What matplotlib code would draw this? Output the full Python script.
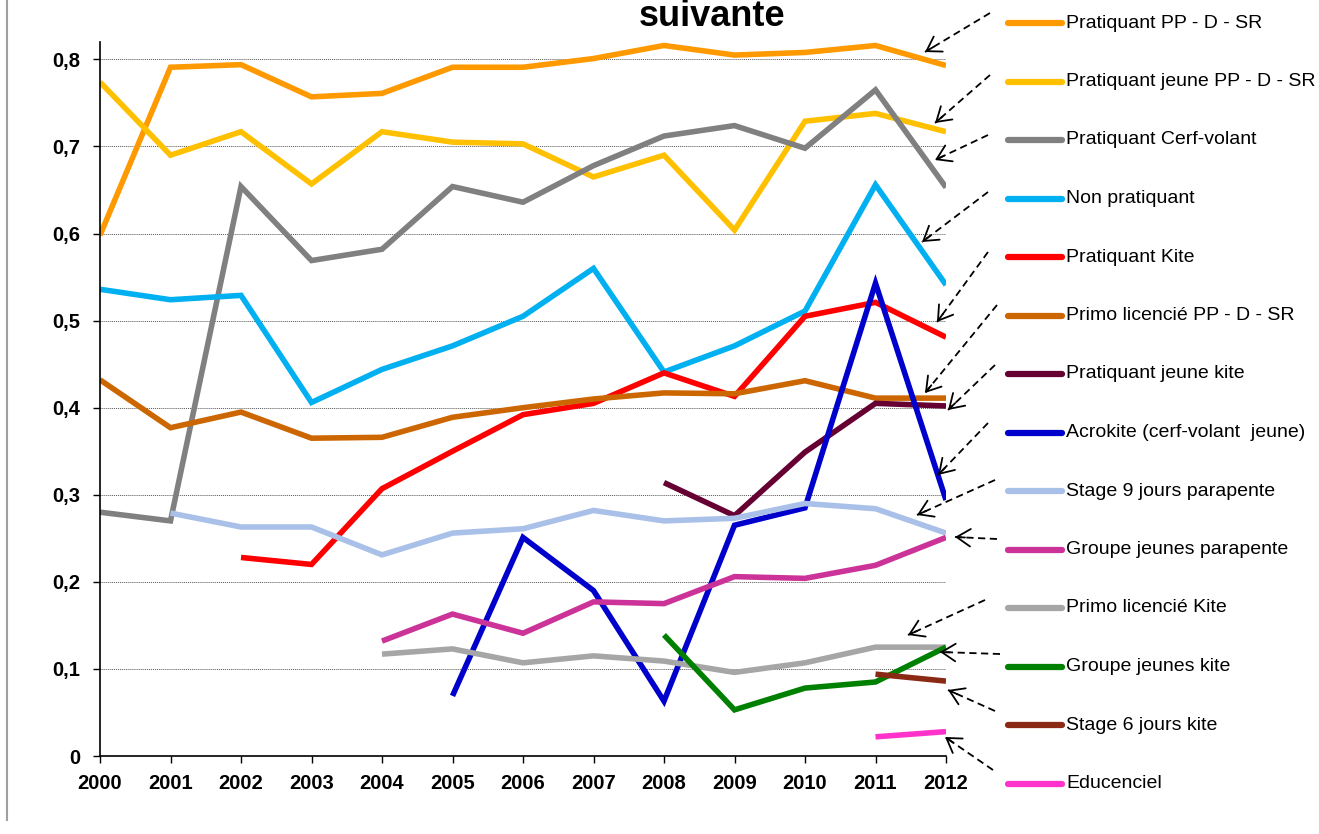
import numpy as np
import matplotlib
matplotlib.use('Agg')
from matplotlib import pyplot as plt
from matplotlib.lines import Line2D

plt.rcParams['font.family'] = ['Liberation Sans', 'DejaVu Sans']

years = list(range(2000, 2013))
N = None

pp_d_sr = [0.598, 0.791, 0.794, 0.757, 0.761, 0.791, 0.791, 0.801, 0.816, 0.805, 0.808, 0.816, 0.793]
jeune_pp = [0.774, 0.690, 0.717, 0.657, 0.717, 0.705, 0.703, 0.665, 0.690, 0.604, 0.729, 0.738, 0.717]
cerf_volant = [0.280, 0.270, 0.654, 0.569, 0.582, 0.654, 0.636, 0.678, 0.712, 0.724, 0.698, 0.765, 0.653]
non_prat = [0.536, 0.524, 0.529, 0.406, 0.444, 0.471, 0.505, 0.560, 0.441, 0.471, 0.511, 0.656, 0.541]
kite = [N, N, 0.228, 0.220, 0.307, 0.350, 0.392, 0.405, 0.440, 0.413, 0.505, 0.521, 0.481]
primo_pp = [0.432, 0.377, 0.395, 0.365, 0.366, 0.389, 0.400, 0.410, 0.417, 0.416, 0.431, 0.411, 0.411]
jeune_kite = [N, N, N, N, N, N, N, N, 0.314, 0.276, 0.349, 0.405, 0.402]
acrokite = [N, N, N, N, N, 0.069, 0.251, 0.190, 0.063, 0.265, 0.285, 0.543, 0.294]
stage9 = [N, 0.279, 0.263, 0.263, 0.231, 0.256, 0.261, 0.282, 0.270, 0.273, 0.290, 0.284, 0.256]
gj_parapente = [N, N, N, N, 0.132, 0.163, 0.141, 0.177, 0.175, 0.206, 0.204, 0.219, 0.251]
primo_kite = [N, N, N, N, 0.117, 0.123, 0.107, 0.115, 0.109, 0.096, 0.107, 0.125, 0.125]
gj_kite = [N, N, N, N, N, N, N, N, 0.139, 0.053, 0.078, 0.085, 0.125]
stage6 = [N, N, N, N, N, N, N, N, N, N, N, 0.094, 0.086]
educenciel = [N, N, N, N, N, N, N, N, N, N, N, 0.022, 0.028]

series = [
    ('Pratiquant PP - D - SR', pp_d_sr, '#FF9900'),
    ('Pratiquant jeune PP - D - SR', jeune_pp, '#FFC000'),
    ('Pratiquant Cerf-volant', cerf_volant, '#808080'),
    ('Non pratiquant', non_prat, '#00B0F0'),
    ('Pratiquant Kite', kite, '#FF0000'),
    ('Primo licencié PP - D - SR', primo_pp, '#CC6600'),
    ('Pratiquant jeune kite', jeune_kite, '#660033'),
    ('Acrokite (cerf-volant  jeune)', acrokite, '#0000CC'),
    ('Stage 9 jours parapente', stage9, '#A9C0E8'),
    ('Groupe jeunes parapente', gj_parapente, '#CC3399'),
    ('Primo licencié Kite', primo_kite, '#A6A6A6'),
    ('Groupe jeunes kite', gj_kite, '#008000'),
    ('Stage 6 jours kite', stage6, '#8B2A14'),
    ('Educenciel', educenciel, '#FF33CC'),
]

W, H = 1319, 834
fig = plt.figure(figsize=(W / 100, H / 100), dpi=100)
ax = fig.add_axes([100 / W, 1 - 756 / H, 846 / W, 714 / H])

for label, vals, col in series:
    v = np.array([np.nan if x is None else x for x in vals], dtype=float)
    ax.plot(years, v, color=col, lw=4, solid_joinstyle='miter', solid_capstyle='butt')

ax.set_xlim(2000, 2012)
ax.set_ylim(0, 0.82)
ax.set_xticks(years)
ax.set_xticklabels([str(y) for y in years])
yt = [0, 0.1, 0.2, 0.3, 0.4, 0.5, 0.6, 0.7, 0.8]
ax.set_yticks(yt)
ax.set_yticklabels(['0' if t == 0 else ('%.1f' % t).replace('.', ',') for t in yt])
for lab in ax.get_xticklabels() + ax.get_yticklabels():
    lab.set_fontweight('bold')
    lab.set_fontsize(14.5)
ax.tick_params(axis='y', direction='out', length=5, pad=9, width=1)
ax.tick_params(axis='x', direction='out', length=5, pad=8, width=1)
ax.spines['top'].set_visible(False)
ax.spines['right'].set_visible(False)
ax.spines['left'].set_linewidth(1.2)
ax.spines['bottom'].set_linewidth(1.2)
ax.yaxis.grid(True, color='#555555', linestyle=(0, (1, 1)), lw=0.7)
ax.set_axisbelow(True)

# title fragment (cut at the top, as in the original)
fig.text(712 / W, 1 - 26 / H, 'suivante', ha='center', va='baseline',
         fontsize=26, fontweight='bold')

# left frame border
fig.add_artist(Line2D([7 / W, 7 / W], [1 - 820 / H, 1.0], transform=fig.transFigure,
                      color='#A0A0A0', lw=1.5))

# legend drawn by hand
for i, (label, vals, col) in enumerate(series):
    y = 1 - (23 + i * 58.5) / H
    fig.add_artist(Line2D([1008 / W, 1062 / W], [y, y], transform=fig.transFigure,
                          color=col, lw=4.5, solid_capstyle='round'))
    fig.text(1066 / W, y, label, ha='left', va='center', fontsize=14)

# dashed arrows from legend to line ends (dashed shaft, solid open head)
arrows = [
    ((990, 13), (925, 52)), ((990, 75), (935, 123)), ((988, 135), (935, 160)),
    ((988, 192), (922, 242)), ((988, 252), (937, 322)), ((997, 305), (925, 393)),
    ((995, 365), (948, 410)), ((988, 423), (938, 475)), ((995, 480), (917, 515)),
    ((997, 539), (955, 537)), ((985, 600), (908, 635)), ((1000, 654), (940, 652)),
    ((995, 711), (948, 690)), ((993, 770), (945, 737)),
]
for (x0, y0), (x1, y1) in arrows:
    fig.add_artist(Line2D([x0 / W, x1 / W], [1 - y0 / H, 1 - y1 / H],
                          transform=fig.transFigure, color='black', lw=1.3,
                          linestyle=(0, (4, 2.5))))
    d = np.hypot(x1 - x0, y1 - y0)
    hx, hy = x1 - (x1 - x0) / d * 10, y1 - (y1 - y0) / d * 10
    ax.annotate('', xy=(x1, H - y1), xytext=(hx, H - hy),
                xycoords='figure pixels', textcoords='figure pixels',
                arrowprops=dict(arrowstyle='->,head_length=0.55,head_width=0.35',
                                lw=1.3, color='black', shrinkA=0, shrinkB=0,
                                mutation_scale=18),
                annotation_clip=False)

fig.savefig('out.png', dpi=100)
